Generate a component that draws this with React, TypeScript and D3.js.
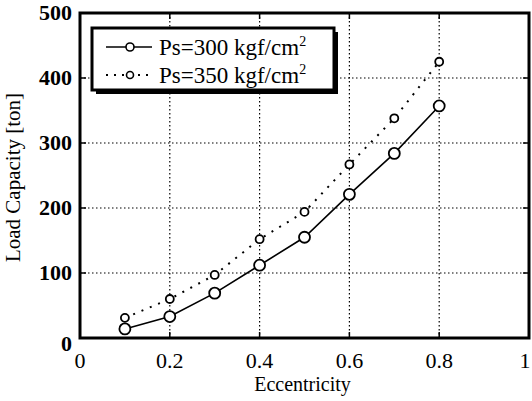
import React, { useRef, useEffect } from 'react';
import * as d3 from 'd3';

const ecc = [0.1, 0.2, 0.3, 0.4, 0.5, 0.6, 0.7, 0.8];
const ps300 = [14, 33, 69, 112, 155, 221, 284, 357];
const ps350 = [31, 60, 97, 152, 194, 267, 338, 425];
const xTicks = [0, 0.2, 0.4, 0.6, 0.8, 1];
const yTicks = [0, 100, 200, 300, 400, 500];

const App = () => {
  const svgRef = useRef<SVGSVGElement>(null);

  useEffect(() => {
    const width = 532;
    const height = 401;
    const margin = { top: 13, right: 3, bottom: 63, left: 80 };
    const w = width - margin.left - margin.right;
    const h = height - margin.top - margin.bottom;
    const font = "'Liberation Serif', 'Times New Roman', serif";

    const svg = d3.select(svgRef.current)
      .attr('width', width)
      .attr('height', height)
      .style('position', 'absolute')
      .style('left', '0px')
      .style('top', '0px')
      .style('background', '#fff');
    svg.selectAll('*').remove();

    const x = d3.scaleLinear().domain([0, 1]).range([0, w]);
    const y = d3.scaleLinear().domain([0, 500]).range([h, 0]);

    const g = svg.append('g').attr('transform', `translate(${margin.left},${margin.top})`);

    // grid
    g.selectAll('.gx')
      .data(xTicks.slice(1, -1))
      .enter()
      .append('line')
      .attr('x1', d => x(d)).attr('x2', d => x(d))
      .attr('y1', 0).attr('y2', h)
      .attr('stroke', '#000').attr('stroke-width', 1.2)
      .attr('stroke-dasharray', '1.5,2.5');
    g.selectAll('.gy')
      .data(yTicks.slice(1, -1))
      .enter()
      .append('line')
      .attr('y1', d => y(d)).attr('y2', d => y(d))
      .attr('x1', 0).attr('x2', w)
      .attr('stroke', '#000').attr('stroke-width', 1.2)
      .attr('stroke-dasharray', '1.5,2.5');

    // inner ticks
    const tickLen = 6;
    xTicks.slice(1, -1).forEach(t => {
      g.append('line').attr('x1', x(t)).attr('x2', x(t)).attr('y1', h).attr('y2', h - tickLen)
        .attr('stroke', '#000').attr('stroke-width', 1.5);
      g.append('line').attr('x1', x(t)).attr('x2', x(t)).attr('y1', 0).attr('y2', tickLen)
        .attr('stroke', '#000').attr('stroke-width', 1.5);
    });
    yTicks.slice(1, -1).forEach(t => {
      g.append('line').attr('x1', 0).attr('x2', tickLen).attr('y1', y(t)).attr('y2', y(t))
        .attr('stroke', '#000').attr('stroke-width', 1.5);
      g.append('line').attr('x1', w).attr('x2', w - tickLen).attr('y1', y(t)).attr('y2', y(t))
        .attr('stroke', '#000').attr('stroke-width', 1.5);
    });

    // frame
    g.append('rect')
      .attr('x', 0).attr('y', 0).attr('width', w).attr('height', h)
      .attr('fill', 'none').attr('stroke', '#000').attr('stroke-width', 3);

    // tick labels
    g.selectAll('.xl')
      .data(xTicks)
      .enter()
      .append('text')
      .attr('x', d => (d === 1 ? x(d) - 4 : x(d)))
      .attr('y', h + 30)
      .attr('text-anchor', 'middle')
      .attr('font-family', font)
      .attr('font-size', 22)
      .text(d => (d === 0 || d === 1 ? String(d) : d.toFixed(1)));
    g.selectAll('.yl')
      .data(yTicks)
      .enter()
      .append('text')
      .attr('x', -8)
      .attr('y', d => y(d) + (d === 0 ? 13 : 7))
      .attr('text-anchor', 'end')
      .attr('font-family', font)
      .attr('font-weight', 'bold')
      .attr('font-size', 22)
      .text(d => d);

    // axis titles
    g.append('text')
      .attr('x', w / 2 - 2)
      .attr('y', h + 53)
      .attr('text-anchor', 'middle')
      .attr('font-family', font)
      .attr('font-size', 20)
      .text('Eccentricity');
    g.append('text')
      .attr('transform', `translate(${-60},${h / 2 + 2}) rotate(-90)`)
      .attr('text-anchor', 'middle')
      .attr('font-family', font)
      .attr('font-size', 21)
      .text('Load Capacity [ton]');

    const line = d3.line<number>()
      .x((d, i) => x(ecc[i]))
      .y(d => y(d))
      .curve(d3.curveLinear);

    // series Ps=350 (dotted)
    g.append('path')
      .datum(ps350)
      .attr('d', line)
      .attr('fill', 'none')
      .attr('stroke', '#000')
      .attr('stroke-width', 2)
      .attr('stroke-dasharray', '2,7');
    g.selectAll('.m350')
      .data(ps350)
      .enter()
      .append('circle')
      .attr('cx', (d, i) => x(ecc[i]))
      .attr('cy', d => y(d))
      .attr('r', 4)
      .attr('fill', '#fff')
      .attr('stroke', '#000')
      .attr('stroke-width', 1.8);

    // series Ps=300 (solid)
    g.append('path')
      .datum(ps300)
      .attr('d', line)
      .attr('fill', 'none')
      .attr('stroke', '#000')
      .attr('stroke-width', 1.6);
    g.selectAll('.m300')
      .data(ps300)
      .enter()
      .append('circle')
      .attr('cx', (d, i) => x(ecc[i]))
      .attr('cy', d => y(d))
      .attr('r', 5.5)
      .attr('fill', '#fff')
      .attr('stroke', '#000')
      .attr('stroke-width', 1.8);

    // legend
    const lg = svg.append('g').attr('transform', 'translate(92,28)');
    const lw = 242;
    const lh = 62;
    lg.append('rect').attr('x', 4).attr('y', 4).attr('width', lw).attr('height', lh).attr('fill', '#000');
    lg.append('rect').attr('x', 0).attr('y', 0).attr('width', lw).attr('height', lh)
      .attr('fill', '#fff').attr('stroke', '#000').attr('stroke-width', 3);

    const items = [
      { label: 'Ps=300 kgf/cm', dash: null as string | null, r: 4 },
      { label: 'Ps=350 kgf/cm', dash: '2,6', r: 3.5 },
    ];
    items.forEach((it, i) => {
      const cy = 19 + i * 28;
      const l = lg.append('line').attr('x1', 14).attr('x2', 60).attr('y1', cy).attr('y2', cy)
        .attr('stroke', '#000').attr('stroke-width', 1.5);
      if (it.dash) l.attr('stroke-dasharray', it.dash).attr('stroke-width', 2);
      lg.append('circle').attr('cx', 38).attr('cy', cy).attr('r', it.r)
        .attr('fill', '#fff').attr('stroke', '#000').attr('stroke-width', 1.6);
      const t = lg.append('text')
        .attr('x', 67)
        .attr('y', cy + 8)
        .attr('font-family', font)
        .attr('font-size', 23)
        .text(it.label);
      t.append('tspan').attr('dy', -9).attr('font-size', 14).text('2');
    });
  }, []);

  return <svg ref={svgRef} />;
};

export default App;
